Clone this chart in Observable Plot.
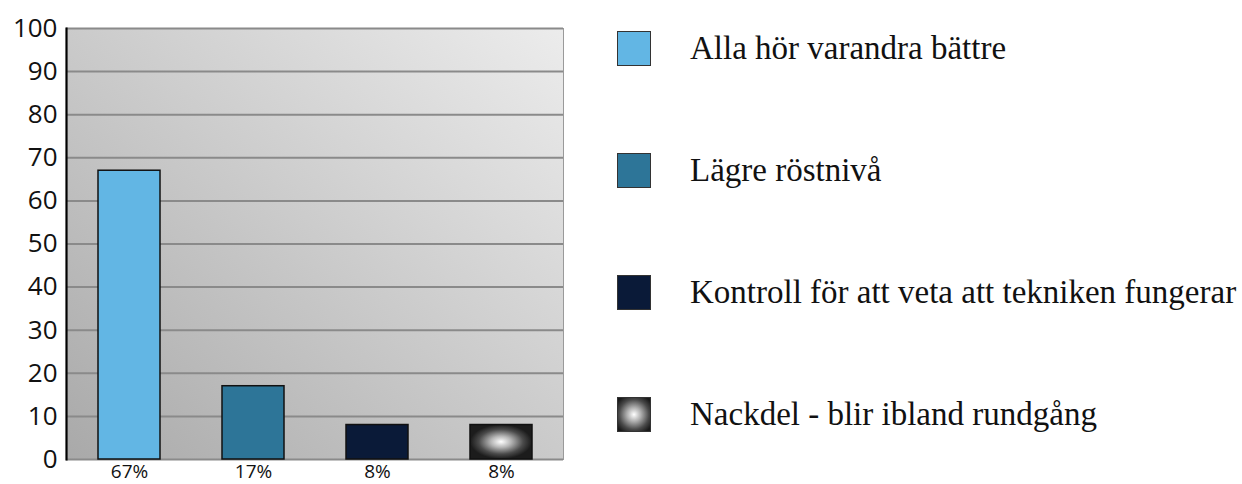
<!DOCTYPE html>
<html>
<head>
<meta charset="utf-8">
<script src="https://cdn.jsdelivr.net/npm/d3@7"></script>
<script src="https://cdn.jsdelivr.net/npm/@observablehq/plot@0.6"></script>
<style>
  html, body { margin: 0; padding: 0; background: #fff; }
  #wrap { position: relative; width: 1242px; height: 484px; overflow: hidden; }
  #chart { position: absolute; left: 0; top: 0; }
  .item { position: absolute; left: 617px; height: 36px; display: flex; align-items: center; }
  .sw { width: 34px; height: 35px; border: 1px solid #333; box-sizing: border-box; }
  .lbl { position: absolute; left: 73px; white-space: nowrap; font-family: "Liberation Serif", "DejaVu Serif", serif; font-size: 33px; color: #111; }
</style>
</head>
<body>
<div id="wrap"><div id="chart"></div><div id="legend"></div></div>
<script>
const categories = ["Alla hör varandra bättre", "Lägre röstnivå", "Kontroll för att veta att tekniken fungerar", "Nackdel - blir ibland rundgång"];
const values = [67, 17, 8, 8];
const barLabels = ["67%", "17%", "8%", "8%"];
const yTicks = [0, 10, 20, 30, 40, 50, 60, 70, 80, 90, 100];
const fills = ["#62b6e4", "#2d7598", "#0a1a38", "url(#glow)"];
const swatchCss = ["#62b6e4", "#2d7598", "#0a1a38", "radial-gradient(circle at 50% 50%, #ffffff 0%, #b0b0b0 30%, #4a4a4a 65%, #1a1a1a 90%)"];
const legendY = [48, 170, 292, 414];

const data = categories.map((c, i) => ({cat: c, value: values[i], fill: fills[i]}));
const fmt = d => barLabels[categories.indexOf(d)];

const svg = Plot.plot({
  width: 590,
  height: 484,
  marginLeft: 66,
  marginRight: 27,
  marginTop: 28,
  marginBottom: 25,
  style: {background: "transparent", overflow: "visible"},
  x: {domain: categories, paddingInner: 0.5, paddingOuter: 0.25, label: null, tickSize: 0, tickFormat: fmt},
  y: {domain: [0, 100], ticks: yTicks, label: null, tickSize: 0},
  color: {type: "identity"},
  marks: [
    Plot.frame({fill: "url(#bg)", stroke: null}),
    Plot.frame({anchor: "right", stroke: "#9a9a9a", strokeWidth: 1}),
    Plot.gridY(yTicks, {stroke: "#8a8a8a", strokeOpacity: 1, strokeWidth: 2}),
    Plot.barY(data, {x: "cat", y: "value", fill: "fill", stroke: "#111", strokeWidth: 1.5}),
    Plot.axisY({ticks: yTicks, tickSize: 0, tickPadding: 9, fontSize: 26, fontFamily: "Open Sans, sans-serif", fill: "#111"}),
    Plot.axisX({tickSize: 0, tickPadding: 5, fontSize: 19, fontFamily: "Open Sans, sans-serif", fill: "#111", tickFormat: fmt}),
    Plot.frame({anchor: "left", stroke: "#000", strokeWidth: 2.2})
  ]
});

const defs = d3.select(svg).insert("defs", ":first-child");
const bg = defs.append("linearGradient").attr("id", "bg").attr("x1", 0).attr("y1", 1).attr("x2", 1).attr("y2", 0);
bg.append("stop").attr("offset", "0%").attr("stop-color", "#a9a9a9");
bg.append("stop").attr("offset", "100%").attr("stop-color", "#ececec");
const glow = defs.append("radialGradient").attr("id", "glow").attr("cx", "50%").attr("cy", "50%").attr("r", "55%");
glow.append("stop").attr("offset", "0%").attr("stop-color", "#ffffff");
glow.append("stop").attr("offset", "30%").attr("stop-color", "#b5b5b5");
glow.append("stop").attr("offset", "65%").attr("stop-color", "#4a4a4a");
glow.append("stop").attr("offset", "90%").attr("stop-color", "#1c1c1c");

document.getElementById("chart").appendChild(svg);

const legend = document.getElementById("legend");
categories.forEach((c, i) => {
  const item = document.createElement("div");
  item.className = "item";
  item.style.top = (legendY[i] - 18) + "px";
  const sw = document.createElement("div");
  sw.className = "sw";
  sw.style.background = swatchCss[i];
  const lbl = document.createElement("div");
  lbl.className = "lbl";
  lbl.textContent = c;
  item.appendChild(sw);
  item.appendChild(lbl);
  legend.appendChild(item);
});
</script>
</body>
</html>
